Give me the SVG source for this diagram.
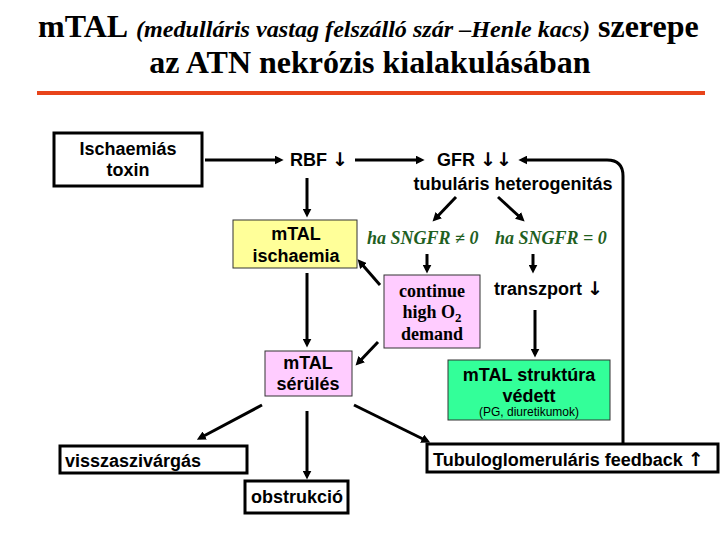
<svg xmlns="http://www.w3.org/2000/svg" width="720" height="540" viewBox="0 0 720 540">
<style>
.t{font-family:"Liberation Serif","Times New Roman",serif;font-weight:bold;fill:#000}
.s{font-family:"Liberation Sans",Arial,sans-serif;font-weight:bold;font-size:18px;fill:#000}
.sr{font-family:"Liberation Serif","Times New Roman",serif;font-weight:bold;font-size:18px;fill:#000}
.g{font-family:"Liberation Serif","Times New Roman",serif;font-weight:bold;font-style:italic;font-size:18px;fill:#1f601f}
.ar{font-family:"DejaVu Sans",sans-serif;font-weight:bold;font-size:19px}
.wb{fill:#fff;stroke:#000;stroke-width:3}
.cb{stroke:#333;stroke-width:1}
.c{stroke:#000;stroke-width:3;fill:none}
</style>
<defs>
<marker id="ah" viewBox="0 0 10 10" refX="6" refY="5" markerWidth="9" markerHeight="9" markerUnits="userSpaceOnUse" orient="auto">
<path d="M0,0 L10,5 L0,10 z" fill="#000"/>
</marker>
</defs>
<rect width="720" height="540" fill="#fff"/>
<g id="title">
<text class="t" x="38" y="37" font-size="32">mTAL</text>
<text class="t" x="136" y="37" font-size="24" font-style="italic" textLength="454" lengthAdjust="spacingAndGlyphs">(medulláris vastag felszálló szár –Henle kacs)</text>
<text class="t" x="598" y="37" font-size="32">szerepe</text>
<text class="t" x="370" y="73" font-size="32" text-anchor="middle">az ATN nekrózis kialakulásában</text>
<rect x="37" y="91" width="668" height="4" fill="#e8441a"/>
</g>
<g id="connectors">
<line class="c" x1="205" y1="160" x2="280" y2="160" marker-end="url(#ah)"/>
<line class="c" x1="355" y1="160" x2="421" y2="160" marker-end="url(#ah)"/>
<line class="c" x1="307" y1="178" x2="307" y2="214" marker-end="url(#ah)"/>
<line class="c" x1="456" y1="197" x2="435" y2="219" marker-end="url(#ah)"/>
<line class="c" x1="498" y1="197" x2="522" y2="219" marker-end="url(#ah)"/>
<line class="c" x1="427" y1="254" x2="427" y2="270" marker-end="url(#ah)"/>
<line class="c" x1="533" y1="254" x2="533" y2="270" marker-end="url(#ah)"/>
<line class="c" x1="380" y1="285" x2="360" y2="262" marker-end="url(#ah)"/>
<line class="c" x1="307" y1="273" x2="307" y2="344" marker-end="url(#ah)"/>
<line class="c" x1="378" y1="342" x2="358" y2="363" marker-end="url(#ah)"/>
<line class="c" x1="535" y1="310" x2="535" y2="354" marker-end="url(#ah)"/>
<line class="c" x1="262" y1="405" x2="200" y2="438" marker-end="url(#ah)"/>
<line class="c" x1="307" y1="411" x2="307" y2="476" stroke-width="2" marker-end="url(#ah)"/>
<line class="c" x1="354" y1="405" x2="427" y2="441" marker-end="url(#ah)"/>
<path class="c" d="M623,443 V176 Q623,160 607,160 H522" marker-end="url(#ah)"/>
</g>
<g id="n-ischaemias">
<rect class="wb" x="54" y="133" width="148" height="53"/>
<text class="s" x="128" y="155" text-anchor="middle">Ischaemiás</text>
<text class="s" x="128" y="176" text-anchor="middle">toxin</text>
</g>
<g id="n-rbf"><text class="s" x="290" y="166">RBF <tspan class="ar">↓</tspan></text></g>
<g id="n-gfr">
<text class="s" x="437" y="166">GFR <tspan class="ar">↓↓</tspan></text>
<text class="s" x="513" y="190" text-anchor="middle">tubuláris heterogenitás</text>
</g>
<g id="n-mtal-isch">
<rect class="cb" x="233" y="220" width="124" height="48" fill="#ffff99"/>
<text class="s" x="296" y="240" text-anchor="middle">mTAL</text>
<text class="s" x="296" y="262" text-anchor="middle">ischaemia</text>
</g>
<g id="n-sngfr1"><text class="g" x="367" y="244">ha SNGFR ≠ 0</text></g>
<g id="n-sngfr0"><text class="g" x="495" y="244">ha SNGFR = 0</text></g>
<g id="n-continue">
<rect class="cb" x="384" y="275" width="96" height="73" fill="#ffccff"/>
<text class="sr" x="432" y="297" text-anchor="middle">continue</text>
<text class="sr" x="432" y="318" text-anchor="middle">high O<tspan font-size="13" dy="4">2</tspan></text>
<text class="sr" x="432" y="340" text-anchor="middle">demand</text>
</g>
<g id="n-transzport"><text class="s" x="494" y="295">transzport <tspan class="ar">↓</tspan></text></g>
<g id="n-serules">
<rect class="cb" x="265" y="351" width="87" height="45" fill="#ffccff"/>
<text class="s" x="308" y="369" text-anchor="middle">mTAL</text>
<text class="s" x="308" y="390" text-anchor="middle">sérülés</text>
</g>
<g id="n-struktura">
<rect class="cb" x="448" y="360" width="162" height="60" fill="#33ff99"/>
<text class="s" x="529" y="381" text-anchor="middle">mTAL struktúra</text>
<text class="s" x="529" y="402" text-anchor="middle">védett</text>
<text x="529" y="416" text-anchor="middle" font-family="Liberation Sans, Arial, sans-serif" font-size="12" fill="#000">(PG, diuretikumok)</text>
</g>
<g id="n-vissza">
<rect class="wb" x="60" y="446" width="187" height="27"/>
<text class="s" x="65" y="467">visszaszivárgás</text>
</g>
<g id="n-obstrukcio">
<rect class="wb" x="245" y="481" width="103" height="32"/>
<text class="s" x="251" y="503">obstrukció</text>
</g>
<g id="n-tubulo">
<rect class="wb" x="427" y="444" width="291" height="28"/>
<text class="s" x="433" y="466">Tubuloglomeruláris feedback <tspan class="ar">↑</tspan></text>
</g>
</svg>
